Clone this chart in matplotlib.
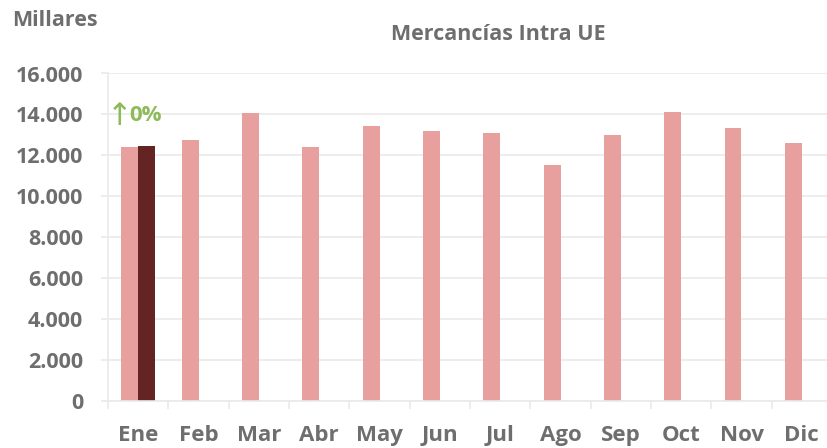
import matplotlib
matplotlib.use("Agg")
import matplotlib.pyplot as plt
from matplotlib.ticker import FuncFormatter, FixedLocator

months = ["Ene", "Feb", "Mar", "Abr", "May", "Jun", "Jul", "Ago", "Sep", "Oct", "Nov", "Dic"]
prev_year = [12390, 12740, 14070, 12420, 13420, 13180, 13070, 11550, 12980, 14100, 13360, 12610]
curr_year = [12450]
yticks = [0, 2000, 4000, 6000, 8000, 10000, 12000, 14000, 16000]
arrow_sym = "↑"
change_txt = "0%"
title = "Mercancías Intra UE"
unit_label = "Millares"

PINK = "#E8A09F"
DARK = "#632423"
GRAY = "#6E6E6E"
GRID = "#EAEAEA"
GREEN = "#8DBB5A"

FAM = ['Open Sans', 'DejaVu Sans']
plt.rcParams['font.family'] = FAM

fig = plt.figure(figsize=(8.27, 4.48), dpi=100)
ax = fig.add_axes([108/827, 1 - 401/448, (832-108)/827, (401-73.5)/448])

w = 0.28
xs = list(range(len(months)))
ax.bar([x - w/2 for x in xs], prev_year, width=w, color=PINK, zorder=2)
ax.bar([x + w/2 for x in xs[:len(curr_year)]], curr_year, width=w, color=DARK, zorder=2)

ax.set_xlim(-0.5, len(months) - 0.5)
ax.set_ylim(0, 16000)
ax.set_yticks(yticks)
ax.yaxis.set_major_formatter(FuncFormatter(lambda v, p: f"{int(v):,}".replace(",", ".")))
ax.grid(axis='y', color=GRID, linewidth=1.2, zorder=0)
ax.set_axisbelow(True)

ax.set_xticks(xs)
ax.set_xticklabels(months)
ax.xaxis.set_minor_locator(FixedLocator([x - 0.5 for x in range(len(months) + 1)]))
ax.tick_params(axis='x', which='major', length=0, pad=17, labelsize=16, labelcolor=GRAY)
ax.tick_params(axis='x', which='minor', length=6, color=GRID, width=1.2)
ax.tick_params(axis='y', length=5, color=GRID, width=1.2, pad=13, labelsize=15.5, labelcolor=GRAY)
for lbl in ax.get_xticklabels() + ax.get_yticklabels():
    lbl.set_fontweight('bold')

for side in ['top', 'right']:
    ax.spines[side].set_visible(False)
for side in ['left', 'bottom']:
    ax.spines[side].set_color(GRID)
    ax.spines[side].set_linewidth(1.2)

ax.text(-0.31, 13880, arrow_sym, color=GREEN, fontsize=22,
        va='center', ha='center', family=['DejaVu Sans'])
ax.text(-0.14, 13930, change_txt, color=GREEN, fontsize=16, fontweight='bold',
        va='center', ha='left', family=FAM)

fig.text(498/827, 1 - 35/448, title, color=GRAY, fontsize=15.5, fontweight='bold',
         ha='center', va='center')
fig.text(12/827, 1 - 20/448, unit_label, color=GRAY, fontsize=15.5, fontweight='bold',
         ha='left', va='center')

fig.savefig("out.png", dpi=100)
